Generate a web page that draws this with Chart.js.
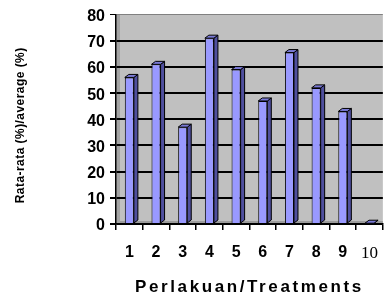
<!DOCTYPE html>
<html>
<head>
<meta charset="utf-8">
<script src="https://cdn.jsdelivr.net/npm/chart.js@4.4.4/dist/chart.umd.min.js"></script>
<style>
  html, body { margin: 0; padding: 0; background: #fff; overflow: hidden; }
  #wrap { width: 391px; height: 299px; }
</style>
</head>
<body>
<div id="wrap"><canvas id="chart"></canvas></div>
<script>
const treatments = ["1", "2", "3", "4", "5", "6", "7", "8", "9", "10"];
const averages = [56, 61, 37, 71, 59, 47, 65.5, 52, 43, 0.3];
const yMin = 0;
const yMax = 80;
const yStep = 10;

// grey wall, side wall and floor, painted behind what is already drawn
const plotWall = {
  id: "plotWall",
  afterDraw(chart) {
    const { ctx } = chart;
    const a = chart.chartArea;
    ctx.save();
    ctx.globalCompositeOperation = "destination-over";
    ctx.fillStyle = "#a4a4a4";
    ctx.fillRect(a.left, a.top, 4, a.bottom - a.top);
    ctx.fillStyle = "#9c9c9c";
    ctx.fillRect(a.left, a.bottom - 3, a.right - a.left, 3);
    ctx.fillStyle = "#c0c0c0";
    ctx.fillRect(a.left, a.top, a.right - a.left, a.bottom - a.top);
    ctx.restore();
    ctx.save();
    ctx.font = "9px sans-serif";
    ctx.fillText(" ", 2, 9);
    ctx.restore();
  },
};

function spaceTitle(scale, spacing, dy) {
  if (!scale || scale._spaced) return;
  const orig = scale.drawTitle;
  scale.drawTitle = function () {
    const ctx = this.ctx;
    ctx.save();
    ctx.letterSpacing = spacing;
    ctx.translate(0, dy);
    orig.call(this);
    ctx.restore();
  };
  scale._spaced = true;
}

const axisTweaks = {
  id: "axisTweaks",
  afterUpdate(chart) {
    spaceTitle(chart.scales.x, "2.6px", 0);
    spaceTitle(chart.scales.y, "0.45px", 6);
  },
};

// fake 3d: top and side faces of each bar
const bar3d = {
  id: "bar3d",
  afterDatasetsDraw(chart) {
    const { ctx } = chart;
    const dx = 4, dy = 3;
    ctx.save();
    ctx.strokeStyle = "#000";
    ctx.lineWidth = 1;
    chart.getDatasetMeta(0).data.forEach((el) => {
      const { x, y, base, width } = el.getProps(["x", "y", "base", "width"], true);
      const l = x - width / 2, r = x + width / 2;
      ctx.fillStyle = "#4f4f9e";
      ctx.beginPath();
      ctx.moveTo(r, y);
      ctx.lineTo(r + dx, y - dy);
      ctx.lineTo(r + dx, base - dy);
      ctx.lineTo(r, base);
      ctx.closePath();
      ctx.fill();
      ctx.stroke();
      ctx.fillStyle = "#7a7ad6";
      ctx.beginPath();
      ctx.moveTo(l, y);
      ctx.lineTo(l + dx, y - dy);
      ctx.lineTo(r + dx, y - dy);
      ctx.lineTo(r, y);
      ctx.closePath();
      ctx.fill();
      ctx.stroke();
    });
    ctx.restore();
  },
};

new Chart(document.getElementById("chart"), {
  type: "bar",
  data: {
    labels: treatments,
    datasets: [
      {
        data: averages,
        backgroundColor: "#9999ff",
        borderColor: "#000",
        borderWidth: 1,
        barPercentage: 0.34,
        categoryPercentage: 1,
      },
    ],
  },
  options: {
    responsive: true,
    maintainAspectRatio: false,
    animation: false,
    layout: { padding: { top: 14, right: 0, bottom: 0, left: 0 } },
    plugins: { legend: { display: false }, tooltip: { enabled: false } },
    scales: {
      x: {
        afterFit: (s) => { s.height = 75; },
        grid: {
          drawOnChartArea: false,
          color: "#000",
          tickColor: "#000",
          tickLength: 6,
          lineWidth: 1.5,
        },
        border: { color: "#000", width: 1.5 },
        ticks: {
          color: "#000",
          padding: 13,
          maxRotation: 0,
          autoSkip: false,
          font: (c) => c.index === 9
            ? { family: "Liberation Serif", size: 17, weight: "normal" }
            : { family: "Liberation Sans", size: 16, weight: "bold" },
        },
        title: {
          display: true,
          text: "Perlakuan/Treatments",
          color: "#000",
          font: { family: "Liberation Sans", size: 17, weight: "bold" },
          padding: { top: 0, bottom: 1 },
        },
      },
      y: {
        min: yMin,
        max: yMax,
        afterFit: (s) => { s.width = 116; },
        grid: {
          color: (c) => (c.tick && c.tick.value === yMax ? "#808080" : "#000"),
          lineWidth: (c) => (c.tick && c.tick.value === yMax ? 1 : 2),
          tickColor: "#000",
          tickLength: 6,
        },
        border: { color: "#000", width: 1.5 },
        ticks: {
          stepSize: yStep,
          color: "#000",
          padding: 5,
          labelOffset: 2,
          font: { family: "Liberation Sans", size: 16, weight: "bold" },
        },
        title: {
          display: true,
          text: "Rata-rata (%)/average (%)",
          color: "#000",
          font: { family: "Liberation Sans", size: 12, weight: "bold" },
          padding: { top: 13, bottom: 0 },
        },
      },
    },
  },
  plugins: [plotWall, axisTweaks, bar3d],
});
</script>
</body>
</html>
